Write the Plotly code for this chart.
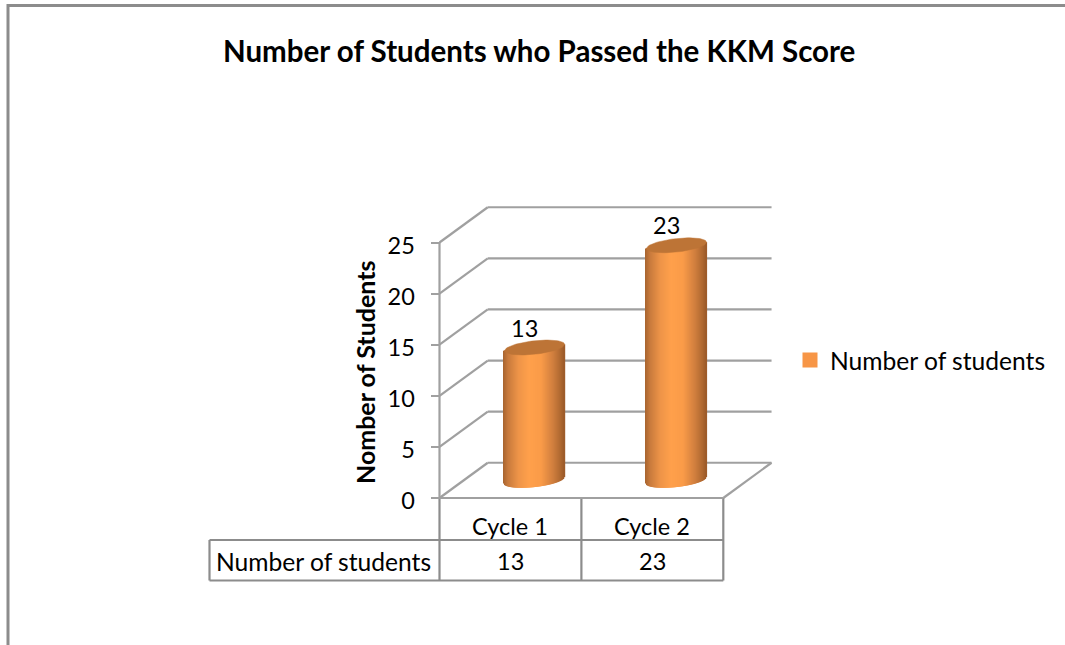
import numpy as np
import plotly.graph_objects as go

title = "Number of Students who Passed the KKM Score"
categories = ["Cycle 1", "Cycle 2"]
series_name = "Number of students"
values = [13, 23]
y_ticks = [0, 5, 10, 15, 20, 25]
y_title = "Nomber of Students"

W, H = 1065, 645
FONT = "Lato"
GRID = "#a0a0a0"
FRAME = "#8c8c8c"
# axis calibration: one category = 141.9 px, one unit = 10.22 px
X0_PX, CAT_PX, Y0_PX, UNIT_PX = 439.5, 141.9, 498.0, 10.22
DX, DY = 0.34, 3.45            # depth of the floor, in axis units
HALF_W, ELL_B, ELL_TILT = 0.2114, 0.66, 0.31


def px(x):
    return x / W


def py(y):
    return 1 - y / H


def hex_mix(stops, u):
    pos = [s[0] for s in stops]
    rgb = [np.interp(u, pos, [s[1][i] for s in stops]) for i in range(3)]
    return "rgb(%d,%d,%d)" % tuple(round(c) for c in rgb)


STOPS = [(-1, (170, 102, 48)), (-0.85, (200, 122, 60)), (-0.5, (238, 148, 72)), (-0.15, (255, 160, 75)),
         (0.25, (250, 155, 72)), (0.65, (208, 126, 62)), (0.9, (175, 104, 48)), (1, (158, 92, 42))]

fig = go.Figure()

# cylinders
for i, (cat, v) in enumerate(zip(categories, values)):
    cx = i + 0.5 + DX / 2
    base = DY / 2
    us = np.linspace(-1, 1, 61)
    xs = cx + us * HALF_W
    low = base + ELL_TILT * us - ELL_B * np.sqrt(1 - us ** 2)
    upper = base + v + ELL_TILT * us
    fig.add_trace(go.Bar(
        x=xs, y=upper - low, base=low, width=HALF_W * 2 / 60 * 1.25,
        marker=dict(color=[hex_mix(STOPS, u) for u in us], line_width=0),
        showlegend=False, hoverinfo="skip"))
    t = np.linspace(0, 2 * np.pi, 80)
    fig.add_trace(go.Scatter(
        x=cx + HALF_W * np.cos(t),
        y=base + v + ELL_TILT * np.cos(t) + ELL_B * np.sin(t),
        mode="lines", fill="toself", fillcolor="#bd7436",
        line=dict(color="#bd7436", width=0.5), showlegend=False, hoverinfo="skip"))
    fig.add_annotation(x=cx, y=base + v, text=str(v), showarrow=False, xshift=-10, yshift=20,
                       xanchor="center", yanchor="middle",
                       font=dict(family=FONT, size=23.5, color="black"))

# legend entry
fig.add_trace(go.Scatter(x=[None], y=[None], mode="markers", name=series_name,
                         marker=dict(symbol="square", size=15, color="#f79646")))

shapes = []


def line(x0, y0, x1, y1, color=GRID, width=2.2, ref="data"):
    d = dict(type="line", x0=x0, y0=y0, x1=x1, y1=y1, line=dict(color=color, width=width), layer="below")
    d.update(xref="x", yref="y") if ref == "data" else d.update(xref="paper", yref="paper")
    shapes.append(d)


n = len(categories)
for v in y_ticks:
    line(0, v, DX, v + DY)
    line(DX, v + DY, n + DX, v + DY)
line(0, y_ticks[0], 0, y_ticks[-1])
line(0, 0, n, 0)
line(n, 0, n + DX, DY)

# outer frame
line(px(8), py(5.5), px(W), py(5.5), FRAME, 3, "paper")
line(px(8), py(4), px(8), py(H), FRAME, 3, "paper")

# data table
ROW1, ROW2, LABEL_X = 540.0, 580.5, 209.5
for k in range(n + 1):
    xp = X0_PX + k * CAT_PX
    line(px(xp), py(Y0_PX), px(xp), py(ROW2), FRAME, 2.2, "paper")
line(px(LABEL_X), py(ROW1), px(LABEL_X), py(ROW2), FRAME, 2.2, "paper")
line(px(LABEL_X), py(ROW1), px(X0_PX + n * CAT_PX), py(ROW1), FRAME, 2.2, "paper")
line(px(LABEL_X), py(ROW2), px(X0_PX + n * CAT_PX), py(ROW2), FRAME, 2.2, "paper")


def note(x, y, text, size, angle=0):
    fig.add_annotation(xref="paper", yref="paper", x=px(x), y=py(y), text=text, showarrow=False,
                       xanchor="center", yanchor="middle", textangle=angle,
                       font=dict(family=FONT, size=size, color="black"))


for k, (cat, v) in enumerate(zip(categories, values)):
    xc = X0_PX + (k + 0.5) * CAT_PX
    note(xc, 526, cat, 23.5)
    note(xc, 561, str(v), 23.5)
note(323, 561, series_name, 24.6)
note(365, 372, "<b>%s</b>" % y_title, 25, -90)
note(539, 51, "<b>%s</b>" % title, 29.5)

fig.update_layout(
    width=W, height=H, autosize=False, margin=dict(l=0, r=0, t=0, b=0),
    paper_bgcolor="white", plot_bgcolor="white", shapes=shapes, barmode="overlay",
    font=dict(family=FONT, size=22, color="black"),
    legend=dict(x=px(790), y=py(360), xanchor="left", yanchor="middle", bgcolor="rgba(0,0,0,0)",
                font=dict(family=FONT, size=24.6, color="black"), itemwidth=30),
    xaxis=dict(range=[-X0_PX / CAT_PX, (W - X0_PX) / CAT_PX], visible=False, fixedrange=True),
    yaxis=dict(range=[(Y0_PX - H) / UNIT_PX, Y0_PX / UNIT_PX], showgrid=False, zeroline=False, showline=False,
               tickmode="array", tickvals=y_ticks, ticks="outside", ticklen=9, tickwidth=2, tickcolor=GRID,
               anchor="free", position=px(X0_PX), side="left", ticklabelstandoff=11, ticklabelshift=3,
               tickfont=dict(family=FONT, size=23.5, color="black"), fixedrange=True),
)

fig.write_html("out.html", config=dict(displayModeBar=False),
               post_script="document.body.style.margin='0';document.documentElement.style.overflow='hidden';")
